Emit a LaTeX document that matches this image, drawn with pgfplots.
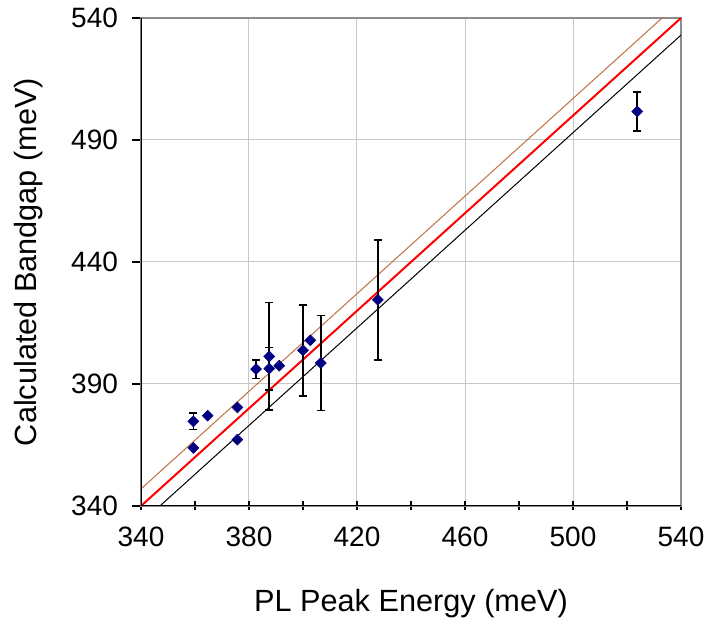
\documentclass[border=0pt]{standalone}
\usepackage{fontspec}
\setmainfont{Liberation Sans}
\usepackage{pgfplots}
\pgfplotsset{compat=1.18}

\definecolor{markblue}{RGB}{0,0,128}
\definecolor{fitbrown}{RGB}{192,112,64}
\definecolor{gridgray}{RGB}{200,200,200}

\begin{document}
\begin{tikzpicture}
\begin{axis}[
    scale only axis,
    width=405pt, height=366pt,
    xmin=340, xmax=540, ymin=340, ymax=540,
    xtick={340,380,...,540},
    ytick={340,390,...,540},
    minor x tick num=1,
    tick pos=left,
    grid=major,
    grid style={gridgray, line width=0.75pt},
    axis line style={gray!90, line width=0.9pt},
    tick align=outside,
    major tick length=6.75pt,
    minor tick length=6.75pt,
    tick style={black, line width=0.9pt},
    xtick style={yshift=3.4pt},
    /pgf/number format/assume math mode=true,
    /pgf/number format/.cd, 1000 sep={}, /pgfplots/.cd,
    ticklabel style={font=\fontsize{21}{25}\selectfont},
    xticklabel shift=5.5pt,
    yticklabel shift=7pt,
    xlabel={PL Peak Energy (meV)},
    ylabel={Calculated Bandgap (meV)},
    label style={font=\fontsize{23}{28}\selectfont},
    xlabel style={at={(axis description cs:0.5,-0.199)}, anchor=center},
    ylabel style={at={(axis description cs:-0.209,0.5)}, anchor=center, rotate=0},
    clip=true,
]

% reference lines
\addplot[fitbrown, line width=0.75pt] coordinates {(340,347) (533,540)};
\addplot[red, line width=1.5pt] coordinates {(340,340) (540,540)};
\addplot[black, line width=0.75pt] coordinates {(347,340) (540,533)};

% points with error bars
\addplot[only marks, mark=square*, mark size=2.9pt,
    mark options={rotate=45, fill=markblue, draw=markblue},
    error bars/.cd, y dir=both, y explicit,
    error bar style={black, line width=1.3pt},
    error mark options={rotate=90, mark size=3pt, black, line width=1.3pt}]
coordinates {
    (359.4,374.7) +- (0,3.3)
    (382.6,396.1) +- (0,3.8)
    (387.5,401.3) +- (0,22.1)
    (387.5,396.3) +- (0,8.7)
    (400.0,403.8) +- (0,18.6)
    (406.6,398.6) +- (0,19.5)
    (427.7,424.5) +- (0,24.6)
    (523.8,501.7) +- (0,7.9)
};

% points without error bars
\addplot[only marks, mark=square*, mark size=2.9pt,
    mark options={rotate=45, fill=markblue, draw=markblue}]
coordinates {
    (359.4,363.8)
    (364.7,377.0)
    (375.7,380.4)
    (375.7,367.2)
    (391.2,397.5)
    (402.7,407.9)
};

% left and bottom spines in black
\draw[black, line width=1pt] (rel axis cs:0,1) -- (rel axis cs:0,0) -- (rel axis cs:1,0);
\end{axis}
\path ([xshift=-105.75pt,yshift=-96pt]current axis.south west)
    rectangle ([xshift=21.75pt,yshift=13.5pt]current axis.north east);
\end{tikzpicture}
\end{document}
